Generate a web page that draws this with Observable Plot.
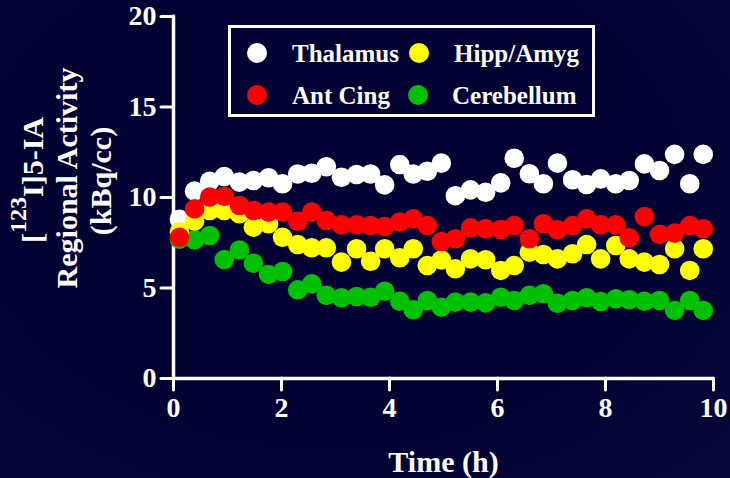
<!DOCTYPE html>
<html>
<head>
<meta charset="utf-8">
<script src="https://cdn.jsdelivr.net/npm/d3@7"></script>
<script src="https://cdn.jsdelivr.net/npm/@observablehq/plot@0.6"></script>
<style>
html,body{margin:0;padding:0;background:#02022e;}
#wrap{position:relative;width:730px;height:478px;overflow:hidden;
  background:radial-gradient(ellipse at 45% 40%, #000034 0%, #010131 55%, #08083a 100%);}
</style>
</head>
<body>
<div id="wrap"></div>
<script>
// ---- data ----
const times = [0.11,0.39,0.67,0.94,1.22,1.48,1.76,2.02,2.30,2.56,2.83,3.11,3.39,3.65,3.91,4.19,4.44,4.70,4.96,5.22,5.50,5.78,6.06,6.31,6.59,6.85,7.11,7.39,7.65,7.91,8.19,8.44,8.72,9.00,9.28,9.56,9.81];
const thalamus = [8.8,10.35,10.9,11.16,10.85,10.94,11.09,10.76,11.3,11.34,11.7,11.12,11.27,11.3,10.7,11.82,11.3,11.45,11.9,10.1,10.42,10.29,10.81,12.17,11.31,10.76,11.9,10.98,10.72,11.03,10.76,10.94,11.86,11.49,12.38,10.76,12.38];
const antCing = [7.8,9.37,10.02,10.06,9.56,9.28,9.19,9.19,8.69,9.19,8.73,8.49,8.49,8.45,8.4,8.64,8.82,8.45,7.57,7.72,8.32,8.27,8.23,8.45,7.72,8.55,8.21,8.45,8.82,8.49,8.49,7.77,8.95,7.96,8.03,8.45,8.27];
const hippAmyg = [8.1,8.7,9.28,9.28,9.1,8.36,8.55,7.8,7.4,7.22,7.22,6.43,7.17,6.48,7.17,6.67,7.17,6.24,6.55,6.06,6.61,6.56,5.97,6.24,6.98,6.85,6.61,6.89,7.4,6.61,7.35,6.61,6.43,6.3,7.17,5.97,7.17];
const cerebellum = [7.7,7.66,7.9,6.57,7.1,6.37,5.75,5.91,4.9,5.23,4.59,4.46,4.53,4.49,4.82,4.27,3.8,4.31,3.94,4.22,4.22,4.18,4.49,4.31,4.59,4.68,4.16,4.31,4.46,4.25,4.4,4.35,4.27,4.31,3.76,4.31,3.76];
const seriesNames = ["Thalamus","Hipp/Amyg","Ant Cing","Cerebellum"];
const seriesColors = ["#ffffff","#ffff00","#ff0000","#00c000"];
const xTicks = [0,2,4,6,8,10];
const yTicks = [0,5,10,15,20];
const xLabel = "Time (h)";

// draw order: white, green, yellow, red (red on top)
const drawOrder = [["Thalamus", thalamus],["Cerebellum", cerebellum],["Hipp/Amyg", hippAmyg],["Ant Cing", antCing]];
const rows = drawOrder.flatMap(([name, vals]) => vals.map((v, i) => ({name, t: times[i], v})));

const font = '"Liberation Serif","Times New Roman",serif';
const W = 730, H = 478;

const chart = Plot.plot({
  width: W, height: H,
  marginLeft: 173, marginRight: 17, marginTop: 16, marginBottom: 100,
  style: {background: "transparent", color: "white", fontFamily: font, fontWeight: "bold", overflow: "visible"},
  x: {domain: [0, 10]},
  y: {domain: [0, 20]},
  color: {domain: seriesNames, range: seriesColors},
  marks: [
    Plot.axisX({ticks: xTicks, tickSize: 12, tickPadding: 7, fontSize: 28, stroke: "white", strokeWidth: 3, strokeLinecap: "round", tickFormat: d => String(d), label: null}),
    Plot.axisY({ticks: yTicks, tickSize: 12, tickPadding: 5, fontSize: 28, stroke: "white", strokeWidth: 3, strokeLinecap: "round", tickFormat: d => String(d), label: null}),
    Plot.ruleY([0], {stroke: "white", strokeWidth: 3.5, strokeLinecap: "round"}),
    Plot.ruleX([0], {stroke: "white", strokeWidth: 3.5, strokeLinecap: "round"}),
    Plot.dot(rows, {x: "t", y: "v", fill: "name", r: 9.8, stroke: null}),
    Plot.text([xLabel], {frameAnchor: "bottom", dy: 84, lineAnchor: "middle", fontSize: 30, fill: "white", fontWeight: "bold"})
  ]
});
document.getElementById("wrap").appendChild(chart);

const svg = d3.select(chart);
// y-axis title (three rotated lines)
const yl = svg.append("g").attr("fill", "white").attr("font-family", font).attr("font-weight", "bold").attr("font-size", 30).attr("text-anchor", "middle");
const l1 = yl.append("text").attr("transform", "translate(43,180) rotate(-90)");
l1.append("tspan").text("[");
l1.append("tspan").attr("font-size", 24).attr("dy", -17).text("123");
l1.append("tspan").attr("dy", 17).text("I]5-IA");
yl.append("text").attr("transform", "translate(77,178) rotate(-90)").text("Regional Activity");
yl.append("text").attr("transform", "translate(111,181) rotate(-90)").text("(kBq/cc)");

// legend
const lg = svg.append("g").attr("font-family", font).attr("font-weight", "bold").attr("font-size", 25).attr("text-anchor", "start");
lg.append("rect").attr("x", 229.5).attr("y", 26.5).attr("width", 364).attr("height", 89)
  .attr("fill", "none").attr("stroke", "white").attr("stroke-width", 3);
const legendPos = {"Thalamus": [257, 53, 292], "Hipp/Amyg": [419, 53, 454], "Ant Cing": [257, 95, 292], "Cerebellum": [418, 95, 452]};
seriesNames.forEach((n, i) => {
  const [cx, cy, tx] = legendPos[n];
  lg.append("circle").attr("cx", cx).attr("cy", cy).attr("r", 10).attr("fill", seriesColors[i]);
  lg.append("text").attr("x", tx).attr("y", cy + 9).attr("fill", "white").attr("text-anchor", "start").text(n);
});
</script>
</body>
</html>
